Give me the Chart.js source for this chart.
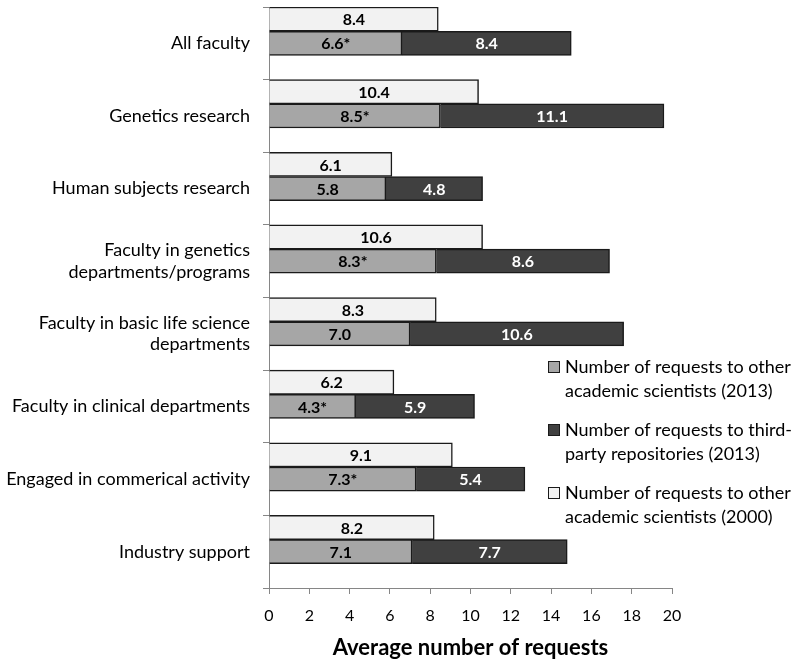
<!DOCTYPE html>
<html>
<head>
<meta charset="utf-8">
<script src="https://cdn.jsdelivr.net/npm/chart.js@4/dist/chart.umd.min.js"></script>
<style>
  html, body { margin: 0; padding: 0; background: #fff; }
  #wrap { width: 800px; height: 664px; }
</style>
</head>
<body>
<div id="wrap"><canvas id="requestsChart"></canvas></div>
<script>
// Chart data
const categories = [
    'All faculty',
    'Genetics research',
    'Human subjects research',
    ['Faculty in genetics', 'departments/programs'],
    ['Faculty in basic life science', 'departments'],
    'Faculty in clinical departments',
    'Engaged in commerical activity',
    'Industry support'
];
const requests2000 = [8.4, 10.4, 6.1, 10.6, 8.3, 6.2, 9.1, 8.2];
const requestsOther2013 = [6.6, 8.5, 5.8, 8.3, 7.0, 4.3, 7.3, 7.1];
const requestsRepo2013 = [8.4, 11.1, 4.8, 8.6, 10.6, 5.9, 5.4, 7.7];
// asterisk marks on the 2013 academic values
const significant = [true, true, false, true, false, true, true, false];
const xMin = 0;
const xMax = 20;
const xStep = 2;

const legendItems = [
    { lines: ['Number of requests to other', 'academic scientists (2013)'], color: '#a6a6a6' },
    { lines: ['Number of requests to third-', 'party repositories (2013)'], color: '#404040' },
    { lines: ['Number of requests to other', 'academic scientists (2000)'], color: '#f2f2f2' }
];

const FONT = 'Lato, "Open Sans", sans-serif';
const AXIS_GREY = '#868686';
const BAR_EDGE = '#1a1a1a';

// Value labels inside the bars
const barLabels = {
    id: 'barLabels',
    afterDatasetsDraw(chart) {
        const ctx = chart.ctx;
        ctx.save();
        ctx.font = 'bold 16px ' + FONT;
        ctx.textAlign = 'center';
        ctx.textBaseline = 'middle';
        [0, 1, 2].forEach(function(di) {
            const meta = chart.getDatasetMeta(di);
            const values = chart.data.datasets[di].data;
            meta.data.forEach(function(bar, i) {
                let text = values[i].toFixed(1);
                if (di === 1 && significant[i]) text += '*';
                ctx.fillStyle = di === 2 ? '#ffffff' : '#000000';
                ctx.fillText(text, (bar.x + bar.base) / 2, bar.y + 1);
            });
        });
        ctx.restore();
    }
};

// Legend drawn inside the plot, on the right
const sideLegend = {
    id: 'sideLegend',
    afterDraw(chart) {
        const ctx = chart.ctx;
        const area = chart.chartArea;
        const x0 = area.left + 279;
        let y = area.top + 360;
        ctx.save();
        ctx.font = '18px ' + FONT;
        ctx.textBaseline = 'middle';
        ctx.textAlign = 'left';
        legendItems.forEach(function(item) {
            ctx.fillStyle = item.color;
            ctx.fillRect(x0, y - 6, 12, 12);
            ctx.strokeStyle = BAR_EDGE;
            ctx.lineWidth = 1;
            ctx.strokeRect(x0 + 0.5, y - 5.5, 11, 11);
            ctx.fillStyle = '#000000';
            item.lines.forEach(function(line, k) {
                ctx.fillText(line, x0 + 17, y + k * 24);
            });
            y += 63;
        });
        ctx.restore();
    }
};

const ctx = document.getElementById('requestsChart').getContext('2d');

new Chart(ctx, {
    type: 'bar',
    data: {
        labels: categories,
        datasets: [
            {
                label: 'Number of requests to other academic scientists (2000)',
                data: requests2000,
                stack: 'y2000',
                backgroundColor: '#f2f2f2'
            },
            {
                label: 'Number of requests to other academic scientists (2013)',
                data: requestsOther2013,
                stack: 'y2013',
                backgroundColor: '#a6a6a6'
            },
            {
                label: 'Number of requests to third-party repositories (2013)',
                data: requestsRepo2013,
                stack: 'y2013',
                backgroundColor: '#404040'
            },
            {
                // empty third slot in each category, as in the original layout
                label: 'spacer',
                data: categories.map(() => null),
                stack: 'spacer',
                backgroundColor: 'rgba(0,0,0,0)'
            }
        ]
    },
    options: {
        indexAxis: 'y',
        responsive: true,
        maintainAspectRatio: false,
        animation: false,
        datasets: {
            bar: {
                categoryPercentage: 1,
                barPercentage: 1,
                borderWidth: 1.5,
                borderColor: BAR_EDGE
            }
        },
        layout: {
            padding: { top: 7, right: 128, left: 0, bottom: 0 }
        },
        scales: {
            x: {
                stacked: true,
                min: xMin,
                max: xMax,
                ticks: {
                    stepSize: xStep,
                    color: '#000000',
                    font: { family: FONT, size: 16 },
                    padding: 12,
                    maxRotation: 0
                },
                grid: {
                    drawOnChartArea: false,
                    tickLength: 6,
                    color: AXIS_GREY
                },
                border: { color: AXIS_GREY, width: 1 },
                title: {
                    display: true,
                    text: 'Average number of requests',
                    color: '#000000',
                    font: { family: FONT, size: 22, weight: 'bold' },
                    padding: { top: 4, bottom: 3 }
                },
                afterFit(scale) { scale.height = 76; }
            },
            y: {
                stacked: true,
                ticks: {
                    color: '#000000',
                    font: { family: FONT, size: 18 },
                    padding: 13
                },
                grid: {
                    drawOnChartArea: false,
                    tickLength: 6,
                    color: AXIS_GREY
                },
                border: { color: AXIS_GREY, width: 1 },
                afterFit(scale) {
                    scale.width = 269;
                    scale.paddingTop = 0;
                    scale.paddingBottom = 0;
                }
            }
        },
        plugins: {
            legend: { display: false },
            tooltip: { enabled: false }
        }
    },
    plugins: [barLabels, sideLegend]
});
</script>
</body>
</html>
